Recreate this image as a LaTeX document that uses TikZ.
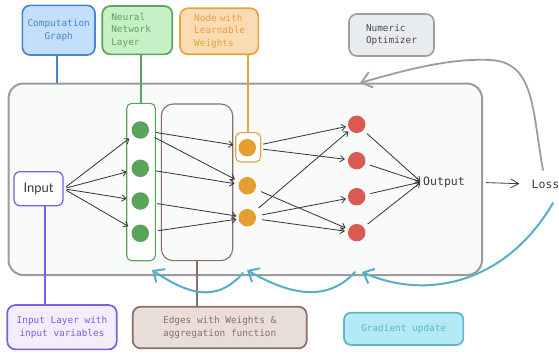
\documentclass[tikz,border=0pt]{standalone}
\usepackage{fontspec}
\setmonofont{DejaVu Sans Mono}
\setsansfont{Lato}
\usetikzlibrary{arrows.meta,calc}
\definecolor{blueS}{HTML}{4A86CF}
\definecolor{blueF}{HTML}{C3DFFB}
\definecolor{greenS}{HTML}{5BA55B}
\definecolor{greenF}{HTML}{C6F0C6}
\definecolor{greenD}{HTML}{5AA35A}
\definecolor{orS}{HTML}{E9A23B}
\definecolor{orF}{HTML}{FBDBB4}
\definecolor{orD}{HTML}{E79E30}
\definecolor{grayS}{HTML}{9E9E9E}
\definecolor{grayF}{HTML}{E9ECEF}
\definecolor{grayT}{HTML}{4A4A4A}
\definecolor{mainS}{HTML}{9B9B9B}
\definecolor{mainF}{HTML}{F9FBFB}
\definecolor{purS}{HTML}{7C5DE6}
\definecolor{purF}{HTML}{F2EEFD}
\definecolor{brownS}{HTML}{8B6F66}
\definecolor{brownF}{HTML}{E9DDD8}
\definecolor{cyS}{HTML}{5FB5CB}
\definecolor{cyF}{HTML}{B3EAF5}
\definecolor{cyA}{HTML}{55B0C7}
\definecolor{redD}{HTML}{D85A50}
\definecolor{ink}{HTML}{3B3B3B}
\definecolor{curveG}{HTML}{989EA4}
\begin{document}
\begin{tikzpicture}[x=1pt,y=-1pt,
  lbl/.style={rounded corners=8pt, line width=1.7pt, inner sep=0pt, align=center,
    font=\ttfamily\fontsize{9.4}{12.8}\selectfont},
  dot/.style={circle, inner sep=0pt, minimum size=17.5pt},
  arr/.style={draw=ink, line width=0.85pt, -{Straight Barb[length=4pt,width=6.5pt]}},
  cyarr/.style={draw=cyA, line width=2pt, line cap=round, -{Straight Barb[length=9pt,width=16pt]}},
  stem/.style={line width=2pt}]
\useasboundingbox (0,0) rectangle (559,354);

% main computation graph box
\node[draw=mainS, fill=mainF, line width=2pt, rounded corners=15pt, inner sep=0pt,
  minimum width=473.5pt, minimum height=191.5pt] (main) at (245.25,179.25) {};

% top labels
\node[lbl, draw=blueS, fill=blueF, text=blueS, minimum width=72.7pt, minimum height=49.7pt]
  (comp) at (58.7,30.2) {Computation\\Graph};
\node[lbl, draw=greenS, fill=greenF, text=greenS, minimum width=70pt, minimum height=48.3pt,
  text width=52pt, align=left] (nnl) at (137.3,30.2) {Neural\\Network\\Layer};
\node[lbl, draw=orS, fill=orF, text=orS, minimum width=78.3pt, minimum height=46pt,
  text width=50pt, align=left] (nlw) at (219.2,31.3) {Node with\\Learnable\\Weights};
\node[lbl, draw=grayS, fill=grayF, text=grayT, line width=1.6pt, minimum width=85pt, minimum height=42pt,
  text width=51pt, align=left] (opt) at (391.5,35) {Numeric\\Optimizer};

% inner structure
\node[draw=purS, fill=white, line width=1.2pt, rounded corners=6pt, minimum width=49pt,
  minimum height=34pt, text=ink, font=\sffamily\fontsize{13}{15}\selectfont] (inp) at (38.5,188.7) {Input};
\node[draw=greenS, fill=white, line width=1.1pt, rounded corners=5pt, minimum width=28.6pt,
  minimum height=157.4pt, inner sep=0pt] (lay) at (141,182) {};
\node[draw=brownS, line width=1.1pt, rounded corners=12pt, minimum width=71.4pt,
  minimum height=156.7pt, inner sep=0pt] (ebox) at (197,182.3) {};
\node[draw=orS, fill=white, line width=1.1pt, rounded corners=5pt, minimum width=25pt,
  minimum height=29.3pt, inner sep=0pt] (obox) at (248.2,147.3) {};

\node[dot, fill=greenD] (g1) at (140.3,130) {};
\node[dot, fill=greenD] (g2) at (140.3,168.3) {};
\node[dot, fill=greenD] (g3) at (140.3,201) {};
\node[dot, fill=greenD] (g4) at (140.3,233.3) {};

\node[dot, fill=orD] (o1) at (247.3,147.7) {};
\node[dot, fill=orD] (o2) at (247.3,185.7) {};
\node[dot, fill=orD] (o3) at (247.3,217.7) {};

\node[dot, fill=redD] (r1) at (356.7,124.3) {};
\node[dot, fill=redD] (r2) at (356.7,160.7) {};
\node[dot, fill=redD] (r3) at (356.7,196.7) {};
\node[dot, fill=redD] (r4) at (356.7,232.7) {};

\node[text=ink, inner sep=2pt, font=\ttfamily\fontsize{11.5}{13}\selectfont] (out) at (444,182) {Output};
\node[text=ink, inner sep=2pt, font=\ttfamily\fontsize{11.5}{13}\selectfont] (loss) at (545.5,184) {Loss};

% bottom labels
\node[lbl, draw=purS, fill=purF, text=purS, minimum width=109.4pt, minimum height=44.3pt]
  (il) at (62,327.2) {Input Layer with\\input variables};
\node[lbl, draw=brownS, fill=brownF, text=brownS, minimum width=174pt, minimum height=41.6pt]
  (edges) at (219.7,327.5) {Edges with Weights \&\\aggregation function};
\node[lbl, draw=cyS, fill=cyF, text=cyS, rounded corners=7pt, minimum width=119.3pt, minimum height=32.3pt]
  (grad) at (403.7,328.8) {Gradient update};

% stems
\draw[stem, blueS] (comp.south -| 57.3,0) -- (main.north -| 57.3,0);
\draw[stem, greenS] (nnl.south -| lay.north) -- (lay.north);
\draw[stem, orS] (nlw.south -| obox.north) -- (obox.north);
\draw[purS, line width=1.2pt] (inp.south -| 45,0) -- (il.north -| 45,0);
\draw[stem, brownS] (ebox.south) -- (ebox.south |- edges.north);

% input -> layer
\foreach \g in {g1,g2,g3,g4}
  \draw[arr, shorten <=3pt, shorten >=5pt] (inp.east) -- (\g);

% layer -> learnable nodes
\draw[arr, shorten <=7pt, shorten >=2pt] (g1) -- (obox);
\draw[arr, shorten <=7pt, shorten >=5pt] (g1) -- (o2);
\draw[arr, shorten <=7pt, shorten >=4pt] (g2) -- (o2);
\draw[arr, shorten <=8pt, shorten >=2pt] (g3) -- (o3);
\draw[arr, shorten <=9pt, shorten >=2pt] (g4) -- (o3);

% learnable nodes -> output layer
\draw[arr, shorten <=2pt, shorten >=2pt] (obox) -- (r1);
\draw[arr, shorten <=2pt, shorten >=3pt] (obox) -- (r2);
\draw[arr, shorten <=6pt, shorten >=3pt] (o2) -- (r4);
\draw[arr, shorten <=6pt, shorten >=2pt] (o3) -- (r1);
\draw[arr, shorten <=6pt, shorten >=2pt] (o3) -- (r3);
\draw[arr, shorten <=6pt, shorten >=3pt] (o3) -- (r4);

% output layer -> output
\foreach \r in {r1,r2,r3,r4}
  \draw[arr, shorten <=5pt, shorten >=1pt] (\r) -- (out.west);

% output -> loss
\draw[draw=ink, line width=0.8pt, shorten <=19pt, shorten >=10pt,
  -{Straight Barb[length=8pt,width=9pt]}] (out.east) -- (loss.west);

% optimizer feedback
\coordinate (gs) at (543,170);
\draw[curveG, line width=1.8pt, line cap=round, -{Straight Barb[length=10pt,width=16pt]}]
  (gs) .. controls (532,110) and (535,62) .. (490,60)
       .. controls (450,58) and (405,70) .. (360,83);

% gradient updates
\coordinate (c1) at (553,203);
\coordinate (c2) at (355,272);
\coordinate (c3) at (243,273);
\draw[cyarr] (c1) .. controls (505,285) and (425,300) .. (362,272);
\draw[cyarr] (c2) .. controls (325,305) and (285,292) .. (247,270);
\draw[cyarr] (c3) .. controls (215,305) and (185,292) .. (152,270);
\end{tikzpicture}
\end{document}
